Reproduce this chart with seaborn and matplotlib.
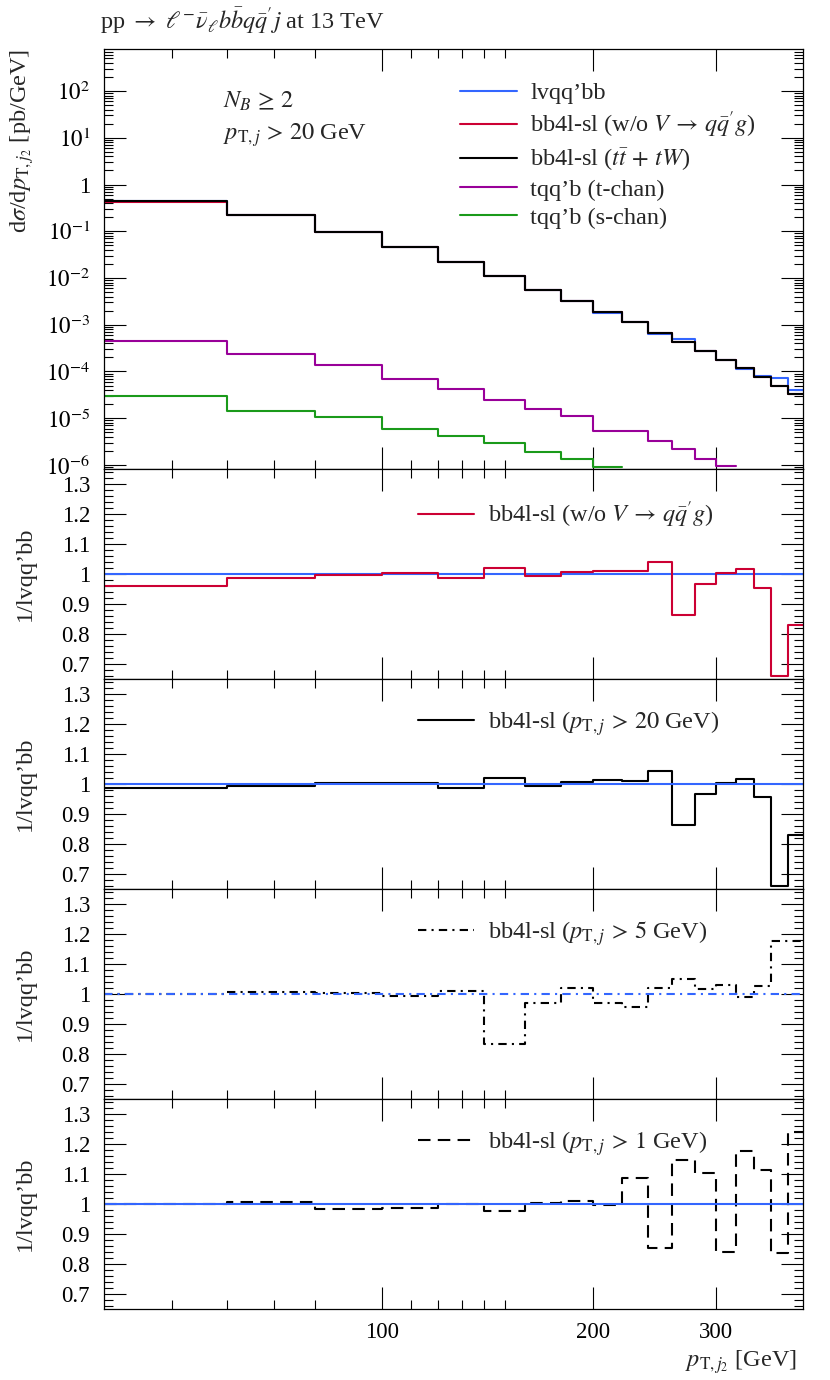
import numpy as np
import seaborn as sns
import matplotlib
matplotlib.use("Agg")
import matplotlib.pyplot as plt
from matplotlib.ticker import FixedLocator, FuncFormatter, NullFormatter, LogLocator, MultipleLocator

nan = np.nan

# pT(j2) bin edges [GeV]
edges = [40, 60, 80, 100, 120, 140, 160, 180, 200, 220, 240, 260, 280, 300, 320, 340, 360, 380, 400]

# dsigma/dpT [pb/GeV]
lvqqbb = [0.45, 0.222, 0.097, 0.046, 0.0223, 0.0108, 0.0055, 0.00318, 0.00182, 0.00113,
          6.4e-4, 5.05e-4, 2.81e-4, 1.74e-4, 1.14e-4, 7.95e-5, 7.25e-5, 3.95e-5]
tchan = [4.6e-4, 2.39e-4, 1.39e-4, 6.95e-5, 4.25e-5, 2.47e-5, 1.58e-5, 1.14e-5, 5.35e-6, 5.35e-6,
         3.26e-6, 2.2e-6, 1.34e-6, 9.5e-7, nan, nan, nan, nan]
schan = [3.05e-5, 1.46e-5, 1.05e-5, 6.0e-6, 4.24e-6, 2.9e-6, 1.89e-6, 1.34e-6, 9.2e-7,
         nan, nan, nan, nan, nan, nan, nan, nan, nan]

# ratios to lvqq'bb
r_noV = [0.959, 0.987, 0.996, 1.003, 0.987, 1.021, 0.994, 1.007, 1.012, 1.010,
         1.041, 0.863, 0.968, 1.003, 1.018, 0.955, 0.661, 0.831]
r_pt20 = [0.987, 0.995, 1.004, 1.004, 0.987, 1.021, 0.995, 1.007, 1.014, 1.012,
          1.044, 0.863, 0.967, 1.004, 1.018, 0.956, 0.662, 0.831]
r_pt5 = [1.0, 1.006, 1.003, 0.994, 1.011, 0.833, 0.972, 1.019, 0.972, 0.956,
         1.022, 1.052, 1.017, 1.031, 0.992, 1.028, 1.176, 1.176]
r_pt1 = [0.999, 1.006, 0.983, 0.988, 1.0, 0.976, 1.004, 1.009, 0.997, 1.088,
         0.853, 1.146, 1.104, 0.841, 1.178, 1.113, 0.839, 1.239]

log_ticks = [1e-6, 1e-5, 1e-4, 1e-3, 1e-2, 1e-1, 1, 10, 100]
ratio_ticks = [0.7, 0.8, 0.9, 1.0, 1.1, 1.2, 1.3]

c_blue = "#3366ff"
c_red = "#cc0033"
c_purple = "#990099"
c_green = "#1a9a1a"
dashdot = (0, (4, 2.5, 1, 2.5))
dashed = (0, (6, 3.5))
FS = 17.5
TS = 16.5

sns.set_theme(style="ticks")
plt.rcParams['font.family'] = ['Liberation Serif', 'DejaVu Serif']
plt.rcParams['mathtext.fontset'] = 'stix'
plt.rcParams['font.size'] = FS
plt.rcParams['axes.labelsize'] = FS
plt.rcParams['axes.edgecolor'] = 'black'
plt.rcParams['axes.linewidth'] = 0.9


def step(ax, vals, color, ls='-', lw=1.5):
    vals = np.asarray(vals, float)
    n = int(np.sum(~np.isnan(vals)))
    x = np.array(edges[:n + 1], float)
    y = np.append(vals[:n], vals[n - 1])
    sns.lineplot(x=x, y=y, ax=ax, drawstyle='steps-post', estimator=None,
                 color=color, lw=lw, legend=False)
    line = ax.lines[-1]
    line.set_linestyle(ls)
    return line


fig = plt.figure(figsize=(8.3, 13.8), dpi=100)
L, W = 104 / 830, 699.3 / 830
ax0 = fig.add_axes([L, 0.66014, W, 0.30413])
ratio_bottoms = [0.50775, 0.35558, 0.20341, 0.05123]
rax = [fig.add_axes([L, b, W, 0.15239]) for b in ratio_bottoms]

ref = np.array(lvqqbb)

# main panel
h_blue = step(ax0, ref, c_blue)
h_red = step(ax0, ref * np.array(r_noV), c_red)
h_black = step(ax0, ref * np.array(r_pt20), 'black')
h_purple = step(ax0, tchan, c_purple)
h_green = step(ax0, schan, c_green)
ax0.set_yscale('log')
ax0.set_ylim(8.2e-7, 780)
ax0.legend([h_blue, h_red, h_black, h_purple, h_green],
           ["lvqq’bb", r"bb4l-sl (w/o $V\,\rightarrow\,q\bar{q}'g$)", r"bb4l-sl ($t\bar{t}\,+\,tW$)",
            "tqq’b (t-chan)", "tqq’b (s-chan)"],
           loc='upper left', bbox_to_anchor=(0.509, 0.922), frameon=False, handlelength=2.35,
           handletextpad=0.54, labelspacing=0.24, borderpad=0, borderaxespad=0, fontsize=FS)
ax0.yaxis.set_major_locator(FixedLocator(log_ticks))
ax0.yaxis.set_minor_locator(LogLocator(base=10, subs=np.arange(2, 10), numticks=20))


def logfmt(v, pos):
    e = int(round(np.log10(v)))
    return "1" if e == 0 else r"$10^{%d}$" % e


ax0.yaxis.set_major_formatter(FuncFormatter(logfmt))
ax0.yaxis.set_minor_formatter(NullFormatter())
ax0.set_ylabel(r"d$\sigma$/d$p_{\mathrm{T},j_2}$ [pb/GeV]", ha='right', va='center', fontsize=FS)
ax0.yaxis.set_label_coords(-0.117, 1.0)

# ratio panels
ratio_sets = [
    (r_noV, c_red, '-', r"bb4l-sl (w/o $V\,\rightarrow\,q\bar{q}'g$)", '-'),
    (r_pt20, 'black', '-', r"bb4l-sl ($p_{\mathrm{T},j}\,>\,20$ GeV)", '-'),
    (r_pt5, 'black', dashdot, r"bb4l-sl ($p_{\mathrm{T},j}\,>\,5$ GeV)", dashdot),
    (r_pt1, 'black', dashed, r"bb4l-sl ($p_{\mathrm{T},j}\,>\,1$ GeV)", '-'),
]
for i, (ax, (rv, col, ls, lab, ref_ls)) in enumerate(zip(rax, ratio_sets)):
    if i == 0:
        step(ax, ref / ref, c_blue, ls=ref_ls)
        h = step(ax, rv, col, ls=ls)
    else:
        h = step(ax, rv, col, ls=ls)
        step(ax, ref / ref, c_blue, ls=ref_ls)
    ax.set_ylim(0.65, 1.35)
    ax.yaxis.set_major_locator(FixedLocator(ratio_ticks))
    ax.yaxis.set_minor_locator(MultipleLocator(0.02))
    ax.yaxis.set_major_formatter(FuncFormatter(lambda v, p: "1" if abs(v - 1) < 1e-6 else "%.1f" % v))
    ax.set_ylabel("1/lvqq’bb", va='center', fontsize=FS)
    ax.yaxis.set_label_coords(-0.113, 0.5)
    ax.legend([h], [lab], loc='upper left', bbox_to_anchor=(0.449, 0.855), frameon=False,
              handlelength=2.3, handletextpad=0.58, borderpad=0, borderaxespad=0, fontsize=FS)

for ax in [ax0] + rax:
    ax.set_xscale('log')
    ax.set_xlim(40, 400)
    ax.xaxis.set_major_locator(FixedLocator([100, 200, 300]))
    ax.xaxis.set_minor_locator(FixedLocator([50, 60, 70, 80, 110, 120, 130, 140, 150]))
    ax.xaxis.set_major_formatter(FuncFormatter(lambda v, p: "%d" % v))
    ax.xaxis.set_minor_formatter(NullFormatter())
    ax.tick_params(which='both', direction='in', top=True, right=True, colors='black')
    ax.tick_params(which='major', length=15.8, width=0.8)
    ax.tick_params(which='minor', length=6.8, width=0.8)
    ax.tick_params(axis='y', which='major', pad=10, labelsize=TS)
    ax.tick_params(axis='x', which='major', pad=9, labelsize=TS)
    ax.set_xlabel("")
    if ax is not rax[-1]:
        ax.tick_params(labelbottom=False)

rax[-1].set_xlabel(r"$p_{\mathrm{T},j_2}$ [GeV]", ha='right', va='center', fontsize=FS)
rax[-1].xaxis.set_label_coords(0.991, -0.25)

fig.text(100 / 830, 1 - 21 / 1380,
         r"pp $\rightarrow$ $\ell^{-}\bar{\nu}_{\ell}b\bar{b}q\bar{q}'j$ at 13 TeV",
         ha='left', va='center', fontsize=FS)
fig.text(222.7 / 830, 1 - 101 / 1380, r"$N_B\,\geq\,2$", ha='left', va='center', fontsize=FS)
fig.text(222.7 / 830, 1 - 135 / 1380, r"$p_{\mathrm{T},j}\,>\,20$ GeV", ha='left', va='center', fontsize=FS)

fig.savefig("out.png", dpi=100)
